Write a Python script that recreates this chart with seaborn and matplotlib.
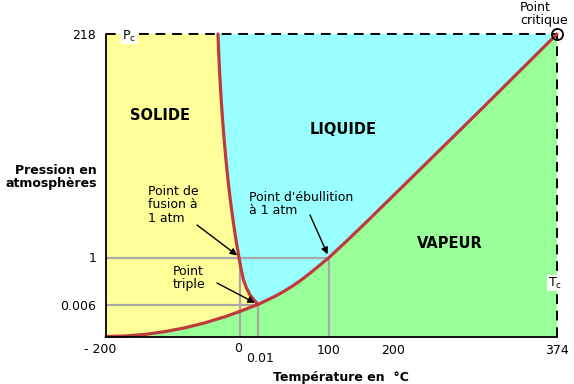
import numpy as np
import matplotlib
matplotlib.use("Agg")
import matplotlib.pyplot as plt
import seaborn as sns
import pandas as pd

# ---------------- data (values read off the schematic) ----------------
# schematic (non-linear) axis knots
temp_knots = [-200, 0, 0.01, 100, 200, 374]
pres_knots = [0, 0.006, 1, 218]

# phase boundaries: temperature (°C) / pressure (atm)
sub_T = [-200, -171.6, -141.8, -111.9, -82.1, -52.2, -22.4, 0, 0.00556, 0.01]
sub_P = [0, 0.00009, 0.00039, 0.00092, 0.00163, 0.00257, 0.00371, 0.00471,
         0.00544, 0.006]
vap_T = [0.01, 11.28, 23.95, 36.63, 49.30, 61.98, 74.65, 87.33, 100, 125,
         156.25, 207.43, 292.31, 374]
vap_P = [0.006, 0.0885, 0.1794, 0.2852, 0.4036, 0.5368, 0.6849, 0.8414, 1,
         15.47, 34.11, 67.41, 143.72, 218]
fus_T = [0.01, 0.00778, 0.00556, 0.00361, 0.00194, 0.00072, -1.5, -5.97,
         -10.45, -14.48, -17.91, -20.90, -23.58, -25.97, -28.06, -30.45,
         -31.94, -32.84]
fus_P = [0.006, 0.1012, 0.2069, 0.3550, 0.5242, 0.7356, 1, 17.99, 37.41,
         56.83, 76.25, 95.66, 115.08, 134.50, 153.92, 181.11, 202.47, 218]

triple = (0.01, 0.006)
boil_1atm = (100, 1)
fusion_1atm = (0, 1)
critical = (374, 218)

x_tick_vals = [-200, 0, 0.01, 100, 200, 374]
x_tick_labels = ["- 200", "0", "0.01", "100", "200", "374"]
y_tick_vals = [0.006, 1, 218]
y_tick_labels = ["0.006", "1", "218"]

# ---------------- layout / style ----------------
W, H = 574, 384
AX_L, AX_R, AX_T, AX_B = 106, 557, 34, 336.5
temp_pos = [0, 134, 152, 223, 287, 451]      # schematic spacing of knots (px)
pres_pos = [0, 32, 79, 302.5]

YELLOW, CYAN, GREEN = "#FFFF99", "#99FFFF", "#99FF99"
RED, GREY = "#C0393B", "#A8A8A8"

sns.set_style("white")
plt.rcParams["font.family"] = ["DejaVu Sans"]
plt.rcParams["text.color"] = "black"
plt.rcParams["axes.labelcolor"] = "black"
plt.rcParams["xtick.color"] = "black"
plt.rcParams["ytick.color"] = "black"

fig = plt.figure(figsize=(W / 100, H / 100), dpi=100)
ax = fig.add_axes([AX_L / W, 1 - AX_B / H, (AX_R - AX_L) / W, (AX_B - AX_T) / H])

fx = lambda t: np.interp(t, temp_knots, temp_pos)
ifx = lambda u: np.interp(u, temp_pos, temp_knots)
fy = lambda p: np.interp(p, pres_knots, pres_pos)
ify = lambda v: np.interp(v, pres_pos, pres_knots)
ax.set_xscale("function", functions=(fx, ifx))
ax.set_yscale("function", functions=(fy, ify))
ax.set_xlim(temp_knots[0], temp_knots[-1])
ax.set_ylim(pres_knots[0], pres_knots[-1])


def af(px, py):
    """pixel position -> axes fraction"""
    return ((px - AX_L) / (AX_R - AX_L), (AX_B - py) / (AX_B - AX_T))


# ---------------- phase regions ----------------
solid_T = [temp_knots[0]] + fus_T[::-1] + sub_T[::-1]
solid_P = [pres_knots[-1]] + fus_P[::-1] + sub_P[::-1]
liquid_T = fus_T + vap_T[::-1]
liquid_P = fus_P + vap_P[::-1]
vapor_T = sub_T + vap_T[1:] + [temp_knots[-1]]
vapor_P = sub_P + vap_P[1:] + [pres_knots[0]]
ax.fill(solid_T, solid_P, color=YELLOW, lw=0.5, ec=YELLOW, zorder=1)
ax.fill(liquid_T, liquid_P, color=CYAN, lw=0.5, ec=CYAN, zorder=1)
ax.fill(vapor_T, vapor_P, color=GREEN, lw=0.5, ec=GREEN, zorder=1)

# ---------------- guide lines ----------------
gkw = dict(color=GREY, lw=1.6, zorder=2, solid_capstyle="butt")
ax.plot([temp_knots[0], boil_1atm[0]], [1, 1], **gkw)
ax.plot([temp_knots[0], triple[0]], [triple[1], triple[1]], **gkw)
ax.plot([fusion_1atm[0]] * 2, [0, 1], **gkw)
ax.plot([boil_1atm[0]] * 2, [0, 1], **gkw)
ax.plot([triple[0]] * 2, [0, triple[1]], **gkw)

# ---------------- phase boundaries ----------------
for T, P in [(sub_T, sub_P), (vap_T, vap_P), (fus_T, fus_P)]:
    sns.lineplot(x=T, y=P, sort=False, estimator=None, color=RED, lw=2.3,
                 ax=ax, zorder=4, clip_on=False, solid_joinstyle="round")

# dashed critical lines
dkw = dict(color="black", lw=1.4, dashes=(5, 3.5), zorder=3, clip_on=False)
ax.plot([temp_knots[0], critical[0]], [critical[1]] * 2, **dkw)
ax.plot([critical[0]] * 2, [pres_knots[0], critical[1]], **dkw)
ax.plot([critical[0]], [critical[1]], "o", ms=8, mfc="none", mec="black",
        mew=1.3, zorder=6, clip_on=False)

# ---------------- spines & ticks ----------------
for s in ["top", "right"]:
    ax.spines[s].set_visible(False)
for s in ["left", "bottom"]:
    ax.spines[s].set_color("black")
    ax.spines[s].set_linewidth(1.3)
    ax.spines[s].set_zorder(5)
ax.set_xticks([])
ax.set_yticks(y_tick_vals, y_tick_labels)
ax.tick_params(axis="y", length=0, pad=7, labelsize=9, labelcolor="black")

x_offsets = {"- 200": (-6, -13), "0": (-2, -12), "0.01": (2, -21.5)}
for v, lab in zip(x_tick_vals, x_tick_labels):
    dx, dy = x_offsets.get(lab, (0, -13.5))
    ax.annotate(lab, xy=(v, 0), xycoords=("data", "axes fraction"),
                xytext=(dx, dy), textcoords="offset pixels", color="black",
                ha="center", va="center", fontsize=9, annotation_clip=False)

ax.set_ylabel("Pression en\natmosphères", rotation=0, ha="right", va="center",
              multialignment="right", fontsize=9, fontweight="bold",
              linespacing=1.05, color="black")
ax.yaxis.set_label_coords(*af(97, 177))
ax.set_xlabel("Température en  °C", fontsize=9, fontweight="bold", color="black")
ax.xaxis.set_label_coords(*af(341, 377))
ax.xaxis.label.set_va("center")

# ---------------- text labels ----------------
bkw = dict(transform=ax.transAxes, ha="center", va="center", fontsize=10.5,
           fontweight="bold", zorder=7, color="black")
ax.text(*af(160, 115), "SOLIDE", **bkw)
ax.text(*af(343, 130), "LIQUIDE", **bkw)
ax.text(*af(450, 244), "VAPEUR", **bkw)

tkw = dict(transform=ax.transAxes, ha="left", va="center", fontsize=9,
           linespacing=1.08, zorder=7, color="black")
ax.text(*af(148, 205), "Point de\nfusion à\n1 atm", **tkw)
ax.text(*af(249, 204), "Point d'ébullition\nà 1 atm", **tkw)
ax.text(*af(173, 278), "Point\ntriple", **tkw)
ax.text(*af(520, 14), "Point\ncritique", clip_on=False, **tkw)

wb = dict(facecolor="white", edgecolor="none", pad=0.6)
ax.text(*af(122, 36), "P$_\\mathregular{c}$", transform=ax.transAxes, ha="left",
        va="center", fontsize=9, bbox=wb, zorder=7, color="black")
ax.text(*af(555, 283), "T$_\\mathregular{c}$", transform=ax.transAxes, ha="center",
        va="center", fontsize=9, bbox=wb, zorder=7, clip_on=False, color="black")

akw = dict(arrowstyle="-|>", color="black", lw=1.0, mutation_scale=10,
           shrinkA=0, shrinkB=2.5)
ax.annotate("", xy=fusion_1atm, xycoords="data", xytext=af(197, 225),
            textcoords="axes fraction", arrowprops=akw, zorder=8)
ax.annotate("", xy=boil_1atm, xycoords="data", xytext=af(310, 215),
            textcoords="axes fraction", arrowprops=akw, zorder=8)
ax.annotate("", xy=triple, xycoords="data", xytext=af(217, 283),
            textcoords="axes fraction", arrowprops=akw, zorder=8)

fig.savefig("out.png", dpi=100)
